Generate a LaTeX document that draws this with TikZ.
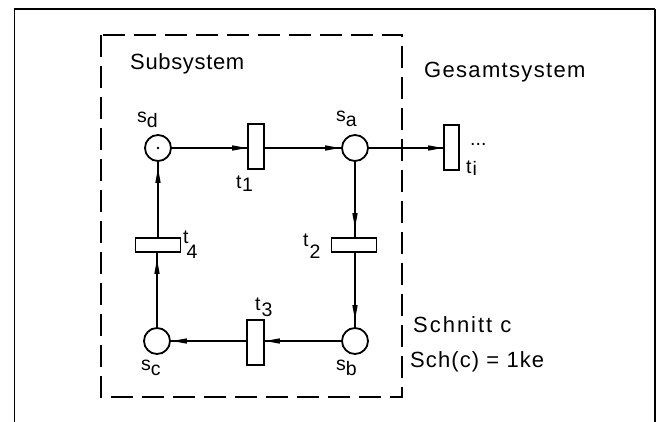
\documentclass[tikz,border=0pt]{standalone}
\usepackage{fontspec}
\setmainfont{Liberation Sans}
\usetikzlibrary{arrows.meta}
\tikzset{
  place/.style={circle,draw,line width=1.8pt,minimum size=26pt,inner sep=0pt},
  trans/.style={rectangle,draw,line width=1.8pt,inner sep=0pt},
  vtrans/.style={trans,minimum width=16pt,minimum height=45pt},
  htrans/.style={trans,minimum width=45pt,minimum height=14pt},
  arc/.style={line width=1.4pt},
  head/.style={line width=1.4pt,-{Triangle[length=15pt,width=5pt]}},
  txt/.style={inner sep=0pt,anchor=base west,font=\fontsize{22}{24}\selectfont},
  lbl/.style={inner sep=0pt,anchor=base west,font=\fontsize{19.5}{21}\selectfont},
  frame/.style={line width=1.3pt},
  subsys/.style={line width=2.2pt,dash pattern=on 22pt off 9pt}
}
\begin{document}
\begin{tikzpicture}[x=1pt,y=-1pt]
\useasboundingbox (0,0) rectangle (657,422);
% outer frame
\draw[frame,line width=1pt] (14,422) -- (14,9);
\draw[frame] (14,9) -- (655,9);
\draw[frame,line width=2pt] (655,9) -- (655,422);
% subsystem box
\draw[subsys] (101,35) rectangle (402,397);
% texts
\node[txt] (subsystem) at (130,70) {\addfontfeature{LetterSpace=3}Subsystem};
\node[txt] (gesamt) at (424,78) {\addfontfeature{LetterSpace=6}Gesamtsystem};
\node[txt] (schnitt) at (413,333) {\addfontfeature{LetterSpace=9}Schnitt c};
\node[txt] (sch) at (410,368) {\addfontfeature{LetterSpace=5}Sch(c) = 1ke};
% places
\node[place] (sd) at (158,148) {};
\node[place] (sa) at (355,148) {};
\node[place] (sc) at (157,341) {};
\node[place] (sb) at (355,341) {};
\fill (sd.center) circle (1.3pt);
% transitions
\node[vtrans] (t1) at (256,146.5) {};
\node[vtrans,minimum width=15pt] (ti) at (451.5,147.5) {};
\node[htrans] (t2) at (354,245) {};
\node[htrans] (t4) at (158,245) {};
\node[vtrans,minimum width=17pt] (t3) at (255.5,342.5) {};
% labels
\node[lbl] (lsd) at (137,123) {s\raisebox{-5pt}{d}};
\node[lbl] (lsa) at (336,122) {s\raisebox{-5pt}{a}};
\node[lbl] (lsc) at (141,371) {s\raisebox{-5pt}{c}};
\node[lbl] (lsb) at (336,371) {s\raisebox{-5pt}{b}};
\node[lbl] (lt1) at (236,189) {t\kern0.5pt\raisebox{-3pt}{1}};
\node[lbl] (lt2) at (303,247) {t\kern1pt\raisebox{-12pt}{2}};
\node[lbl] (lt4) at (183,244) {t\kern-2pt\raisebox{-15pt}{4}};
\node[lbl] (lt3) at (255,311) {t\kern1pt\raisebox{-6pt}{3}};
\node[lbl] (lti) at (466,174) {t\kern1pt\raisebox{-2pt}{i}};
\node[lbl] (dots) at (470,146) {...};
% arcs
\draw[arc] (sd) -- (sd -| t1.west);
\draw[head] (sd) -- (sd -| t1.west);
\draw[arc] (sa -| t1.east) -- (sa);
\draw[head,shorten >=1pt] (sa -| t1.east) -- (sa);
\draw[arc] (sa) -- (ti.west |- sa);
\draw[head] (sa) -- (ti.west |- sa);
\draw[arc] (sa) -- (sa |- t2.north);
\draw[head,shorten >=9pt] (sa) -- (sa |- t2.north);
\draw[arc] (sb |- t2.south) -- (sb);
\draw[head,shorten >=7pt] (sb |- t2.south) -- (sb);
\draw[arc] (sb) -- (sb -| t3.east);
\draw[head] (sb) -- (sb -| t3.east);
\draw[arc] (sc -| t3.west) -- (sc);
\draw[head,shorten >=1pt] (sc -| t3.west) -- (sc);
\draw[arc] (sc) -- (sc |- t4.south);
\draw[head,shorten >=6pt] (sc) -- (sc |- t4.south);
\draw[arc] (sd |- t4.north) -- (sd);
\draw[head,shorten >=6pt] (sd |- t4.north) -- (sd);
\end{tikzpicture}
\end{document}
